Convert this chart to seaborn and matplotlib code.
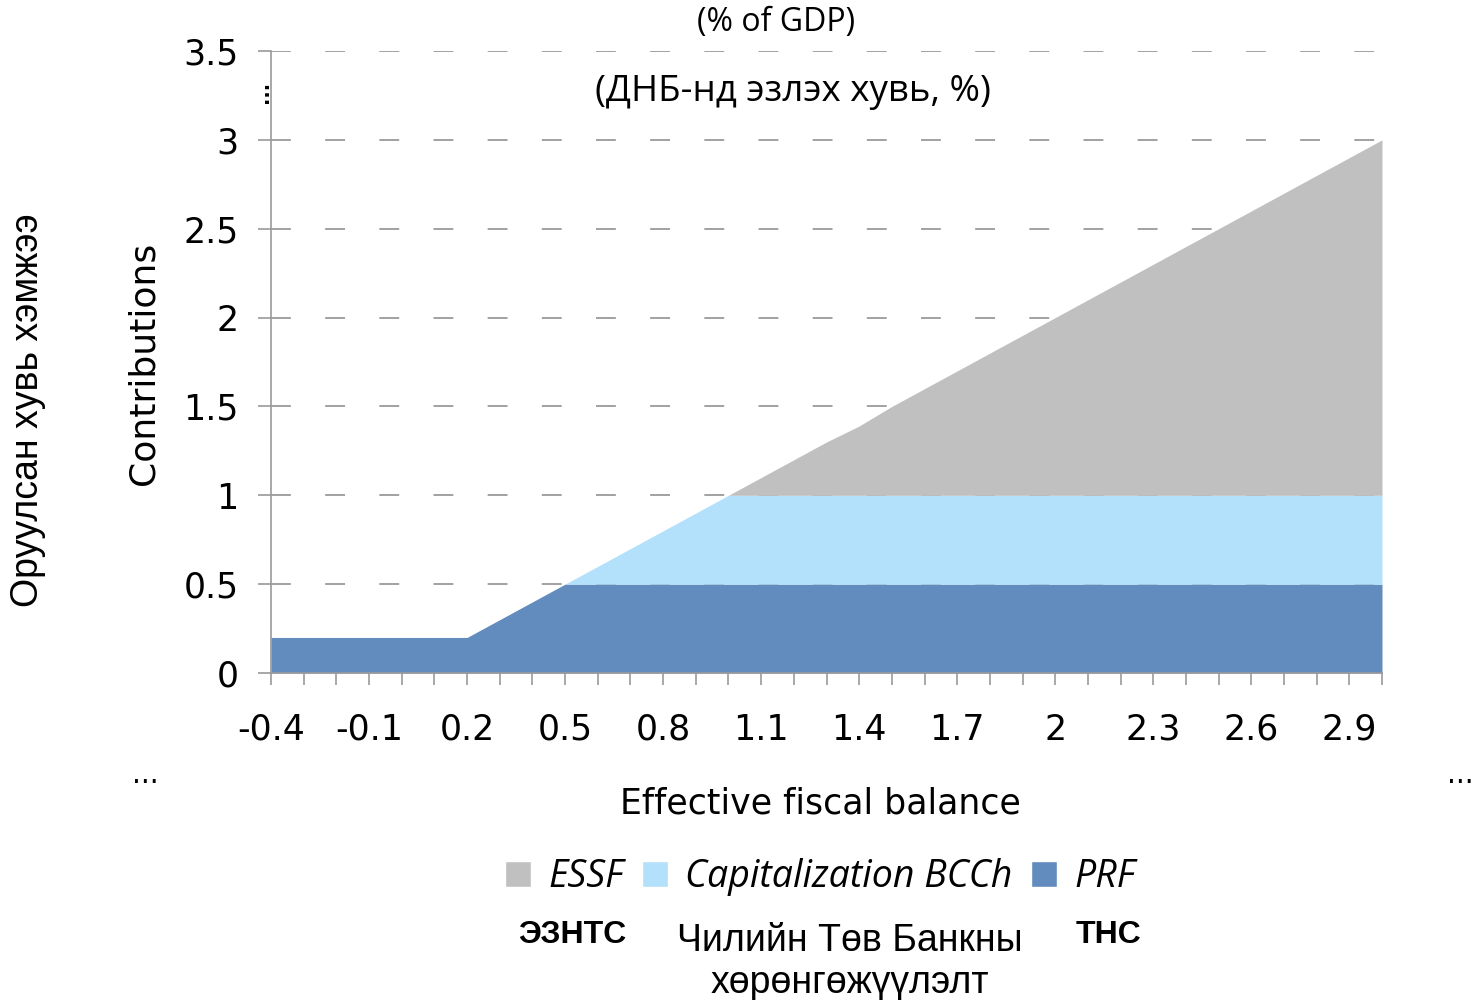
import matplotlib
matplotlib.use("Agg")
import matplotlib.pyplot as plt
import seaborn as sns
import pandas as pd
from matplotlib.patches import Patch

balance = [-0.4, -0.3, -0.2, -0.1, 0.0, 0.1, 0.2, 0.3, 0.4, 0.5, 0.6, 0.7, 0.8, 0.9,
           1.0, 1.1, 1.2, 1.3, 1.4, 1.5, 1.6, 1.7, 1.8, 1.9, 2.0, 2.1, 2.2, 2.3,
           2.4, 2.5, 2.6, 2.7, 2.8, 2.9, 3.0]
prf = [0.2, 0.2, 0.2, 0.2, 0.2, 0.2, 0.2, 0.3, 0.4, 0.5, 0.5, 0.5, 0.5, 0.5,
       0.5, 0.5, 0.5, 0.5, 0.5, 0.5, 0.5, 0.5, 0.5, 0.5, 0.5, 0.5, 0.5, 0.5,
       0.5, 0.5, 0.5, 0.5, 0.5, 0.5, 0.5]
cap_bcch = [0, 0, 0, 0, 0, 0, 0, 0, 0, 0, 0.1, 0.2, 0.3, 0.4,
            0.5, 0.5, 0.5, 0.5, 0.5, 0.5, 0.5, 0.5, 0.5, 0.5, 0.5, 0.5, 0.5, 0.5,
            0.5, 0.5, 0.5, 0.5, 0.5, 0.5, 0.5]
essf = [0, 0, 0, 0, 0, 0, 0, 0, 0, 0, 0, 0, 0, 0,
        0, 0.1, 0.2, 0.3, 0.39, 0.5, 0.6, 0.7, 0.8, 0.9, 1.0, 1.1, 1.2, 1.3,
        1.4, 1.5, 1.6, 1.7, 1.8, 1.9, 2.0]
x_ticklabels = ["-0.4", "-0.1", "0.2", "0.5", "0.8", "1.1", "1.4", "1.7", "2", "2.3", "2.6", "2.9"]
y_ticks = [0, 0.5, 1, 1.5, 2, 2.5, 3, 3.5]
y_ticklabels = ["0", "0.5", "1", "1.5", "2", "2.5", "3", "3.5"]
series_names = ["ESSF", "Capitalization BCCh", "PRF"]
series_names_mn = ["ЭЗНТС", "Чилийн Төв Банкны\nхөрөнгөжүүлэлт", "ТНС"]

df = pd.DataFrame({"balance": balance, "PRF": prf, "Cap": cap_bcch, "ESSF": essf})
df["pos"] = range(len(df))

sns.set_theme(style="white")
plt.rcParams["font.family"] = ["DejaVu Sans"]
plt.rcParams["text.color"] = "black"
plt.rcParams["xtick.color"] = "black"
plt.rcParams["ytick.color"] = "black"
plt.rcParams["axes.labelcolor"] = "black"

c_prf = "#618CBD"
c_cap = "#B3E1FC"
c_essf = "#C0C0C0"
grid_c = "#9A9A9A"

fig = plt.figure(figsize=(14.74, 10), dpi=100)
ax = fig.add_axes([271/1474, 1-673/1000, (1382-271)/1474, (673-51)/1000])

ax.stackplot(df["pos"], df["PRF"], df["Cap"], df["ESSF"],
             colors=[c_prf, c_cap, c_essf], linewidth=0, zorder=2)

ax.set_xlim(0, len(df)-1)
ax.set_ylim(0, 3.5)
ax.set_yticks(y_ticks)
ax.set_yticklabels(y_ticklabels, fontsize=25)
ax.set_xticks(range(len(df)))
ax.set_xticklabels([x_ticklabels[i//3] if i % 3 == 0 else "" for i in range(len(df))], fontsize=25)
ax.tick_params(axis="y", which="both", length=9.4, width=1.2, color=grid_c, labelcolor="black", pad=14, left=True)
ax.tick_params(axis="x", which="both", length=8.6, width=1.2, color=grid_c, labelcolor="black", pad=20, bottom=True)
for yv in y_ticks[1:]:
    ax.axhline(yv, color=grid_c, lw=1.3, ls=(0, (11, 19)), zorder=1)
for s in ["top", "right"]:
    ax.spines[s].set_visible(False)
for s in ["left", "bottom"]:
    ax.spines[s].set_color(grid_c)
    ax.spines[s].set_linewidth(1.2)
ax.spines["left"].set_zorder(3)

# titles and labels
fig.text(776/1474, 1-22/1000, "(% of GDP)", ha="center", va="center", fontsize=23, family="Open Sans")
fig.text(793/1474, 1-92/1000, "(ДНБ-нд эзлэх хувь, %)", ha="center", va="center", fontsize=26.5, family="Open Sans")
fig.text(262/1474, 1-92/1000, "...", ha="center", va="center", fontsize=14, rotation=90, fontweight="bold")
fig.text(143/1474, 1-363/1000, "Contributions", ha="center", va="center", fontsize=26, rotation=90)
fig.text(28/1474, 1-410/1000, "Оруулсан хувь хэмжээ", ha="center", va="center", fontsize=27, rotation=90,
         family="Liberation Sans")
fig.text(820/1474, 1-803/1000, "Effective fiscal balance", ha="center", va="center", fontsize=25)
fig.text(145/1474, 1-775/1000, "...", ha="center", va="center", fontsize=20)
fig.text(1460/1474, 1-775/1000, "...", ha="center", va="center", fontsize=20)

# legend
handles = [Patch(facecolor=c_essf, label=series_names[0]),
           Patch(facecolor=c_cap, label=series_names[1]),
           Patch(facecolor=c_prf, label=series_names[2])]
leg = fig.legend(handles=handles, loc="center", bbox_to_anchor=(820/1474, 1-877/1000), ncol=3,
                 frameon=False, handlelength=0.7, handleheight=0.7, handletextpad=0.45, columnspacing=0.5,
                 prop={"family": "Open Sans", "style": "italic", "size": 27})

fig.text(572/1474, 1-935/1000, series_names_mn[0], ha="center", va="center", fontsize=23,
         fontweight="bold", family="Liberation Sans")
fig.text(850/1474, 1-962/1000, series_names_mn[1], ha="center", va="center", fontsize=27,
         family="Liberation Sans", linespacing=1.22, multialignment="center")
fig.text(1108/1474, 1-935/1000, series_names_mn[2], ha="center", va="center", fontsize=23,
         fontweight="bold", family="Liberation Sans")

fig.savefig("out.png", dpi=100)
